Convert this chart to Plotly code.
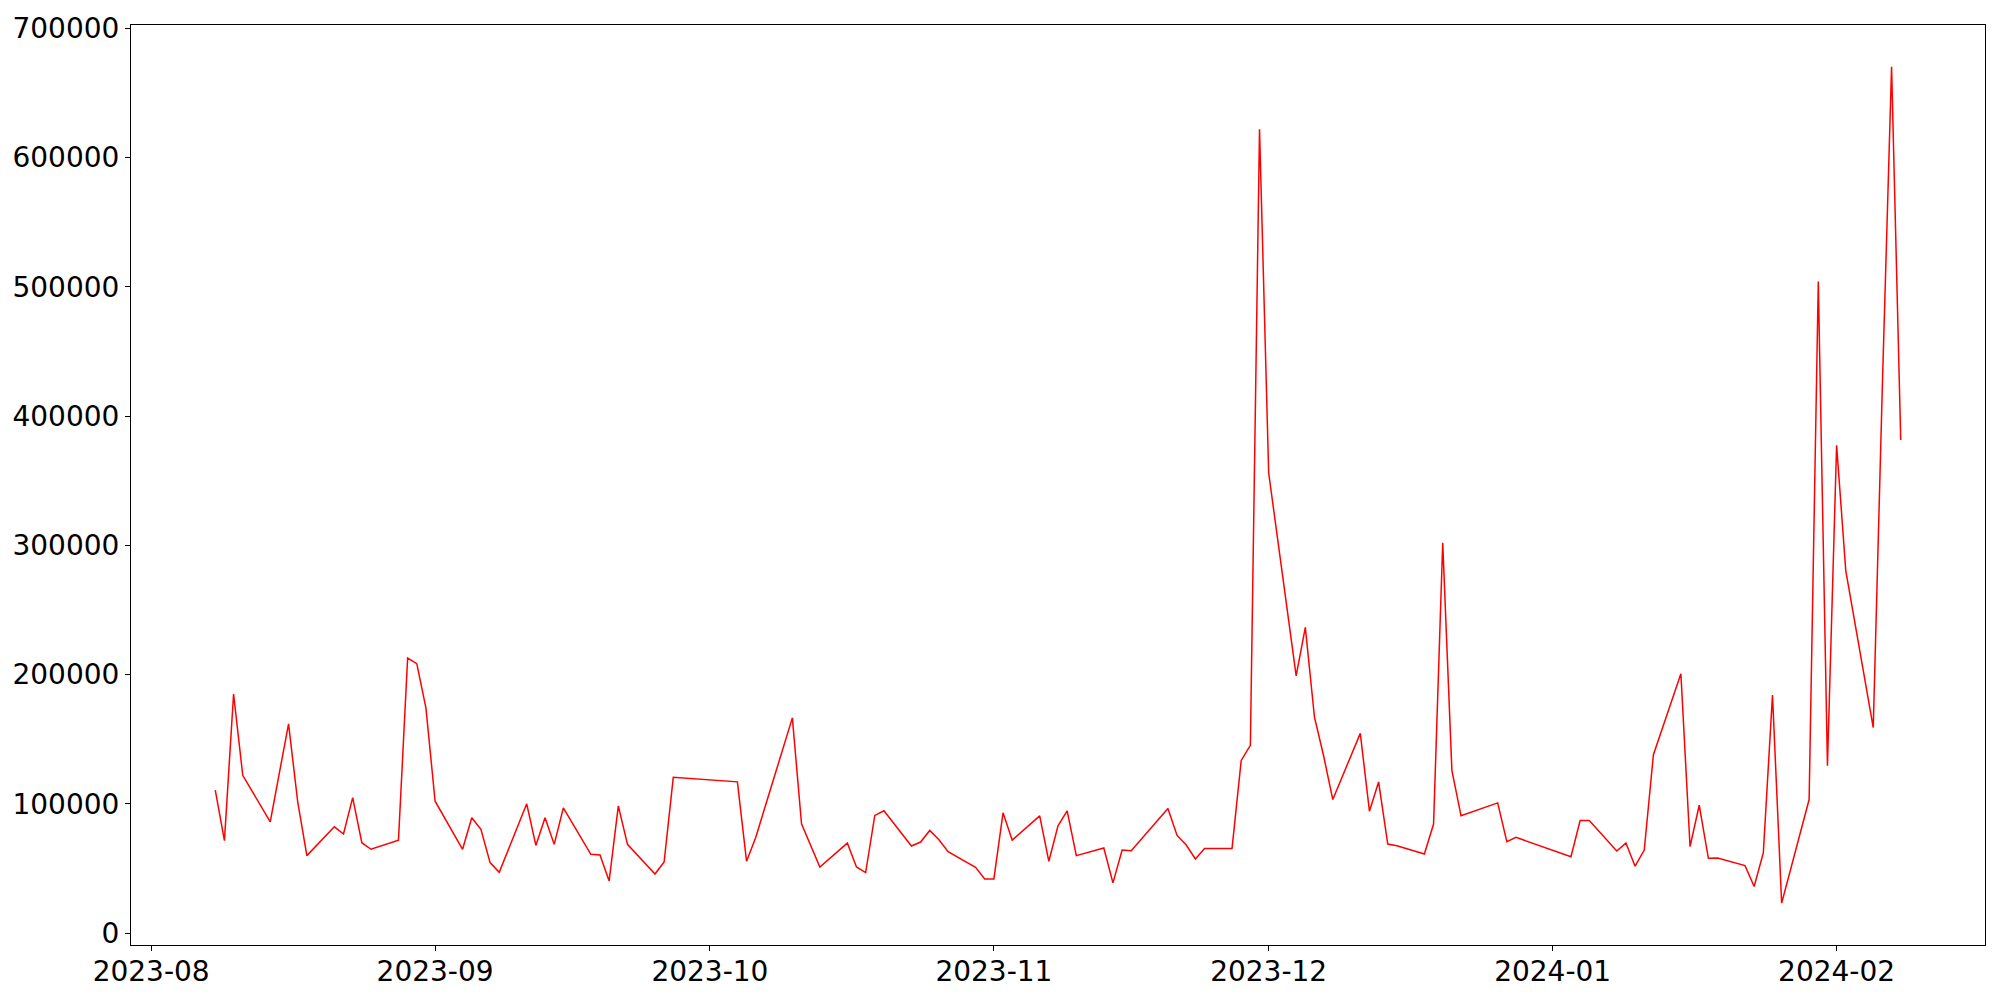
import pandas as pd
import plotly.graph_objects as go

dates = [
    "2023-08-08", "2023-08-09", "2023-08-10", "2023-08-11", "2023-08-14", "2023-08-16",
    "2023-08-17", "2023-08-18", "2023-08-21", "2023-08-22", "2023-08-23", "2023-08-24",
    "2023-08-25", "2023-08-28", "2023-08-29", "2023-08-30", "2023-08-31", "2023-09-01",
    "2023-09-04", "2023-09-05", "2023-09-06", "2023-09-07", "2023-09-08", "2023-09-11",
    "2023-09-12", "2023-09-13", "2023-09-14", "2023-09-15", "2023-09-18", "2023-09-19",
    "2023-09-20", "2023-09-21", "2023-09-22", "2023-09-25", "2023-09-26", "2023-09-27",
    "2023-10-04", "2023-10-05", "2023-10-06", "2023-10-10", "2023-10-11", "2023-10-13",
    "2023-10-16", "2023-10-17", "2023-10-18", "2023-10-19", "2023-10-20", "2023-10-23",
    "2023-10-24", "2023-10-25", "2023-10-26", "2023-10-27", "2023-10-30", "2023-10-31",
    "2023-11-01", "2023-11-02", "2023-11-03", "2023-11-06", "2023-11-07", "2023-11-08",
    "2023-11-09", "2023-11-10", "2023-11-13", "2023-11-14", "2023-11-15", "2023-11-16",
    "2023-11-20", "2023-11-21", "2023-11-22", "2023-11-23", "2023-11-24", "2023-11-27",
    "2023-11-28", "2023-11-29", "2023-11-30", "2023-12-01", "2023-12-04", "2023-12-05",
    "2023-12-06", "2023-12-07", "2023-12-08", "2023-12-11", "2023-12-12", "2023-12-13",
    "2023-12-14", "2023-12-15", "2023-12-18", "2023-12-19", "2023-12-20", "2023-12-21",
    "2023-12-22", "2023-12-26", "2023-12-27", "2023-12-28", "2024-01-03", "2024-01-04",
    "2024-01-05", "2024-01-08", "2024-01-09", "2024-01-10", "2024-01-11", "2024-01-12",
    "2024-01-15", "2024-01-16", "2024-01-17", "2024-01-18", "2024-01-19", "2024-01-22",
    "2024-01-23", "2024-01-24", "2024-01-25", "2024-01-26", "2024-01-29", "2024-01-30",
    "2024-01-31", "2024-02-01", "2024-02-02", "2024-02-05", "2024-02-06", "2024-02-07",
    "2024-02-08",
]

values = [
    110500, 71500, 185000, 122000, 86100, 161900,
    101500, 59900, 82200, 76600, 104800, 69900,
    64800, 71900, 212800, 208400, 174000, 102000,
    64800, 89200, 80200, 54500, 47000, 100000,
    67800, 89200, 68600, 96900, 60900, 60400,
    40300, 98400, 68600, 45700, 55000, 120500,
    117000, 55500, 74000, 166500, 84500, 51100,
    69600, 51100, 46800, 91000, 94600, 67300,
    70400, 79400, 72200, 63000, 50900, 41900,
    41900, 93000, 71900, 90700, 55500, 83000,
    94600, 59900, 65800, 38800, 64200, 63700,
    96400, 75500, 68100, 57300, 65500, 65500,
    133600, 145200, 622000, 356000, 199000, 236500,
    167000, 137000, 103300, 154500, 94300, 116900,
    68900, 67600, 61200, 84300, 302000, 125900,
    90700, 100700, 70700, 74000, 59100, 87100,
    87100, 63500, 69600, 51700, 64200, 138000,
    200700, 66800, 98900, 57800, 58000, 52200,
    36000, 62200, 184200, 23100, 103300, 504200,
    129500, 377500, 280500, 159000, 425000, 670300,
    381500,
]

y_ticks = [0, 100000, 200000, 300000, 400000, 500000, 600000, 700000]
y_tick_labels = ["0", "100000", "200000", "300000", "400000", "500000", "600000", "700000"]

x = pd.to_datetime(dates)

# matplotlib-like 5% data margins
span_x = x.max() - x.min()
x_range = [x.min() - 0.05 * span_x, x.max() + 0.05 * span_x]
span_y = max(values) - min(values)
y_range = [min(values) - 0.05 * span_y, max(values) + 0.05 * span_y]

fig = go.Figure(
    go.Scatter(
        x=x,
        y=values,
        mode="lines",
        line=dict(color="red", width=1.5),
        showlegend=False,
        hoverinfo="x+y",
    )
)

axis_common = dict(
    showgrid=False,
    zeroline=False,
    showline=True,
    linecolor="black",
    linewidth=1.1,
    mirror=True,
    ticks="outside",
    ticklen=5,
    tickwidth=1.1,
    tickcolor="black",
    tickfont=dict(family="DejaVu Sans", size=28, color="black"),
)

fig.update_xaxes(
    range=[x_range[0].isoformat(), x_range[1].isoformat()],
    tickformat="%Y-%m",
    dtick="M1",
    tick0="2023-08-01",
    ticklabelstandoff=-4,
    **axis_common,
)
fig.update_yaxes(
    range=y_range,
    tickmode="array",
    tickvals=y_ticks,
    ticktext=y_tick_labels,
    **axis_common,
)

fig.update_layout(
    width=2000,
    height=1000,
    margin=dict(l=131, r=15, t=23, b=53),
    plot_bgcolor="white",
    paper_bgcolor="white",
    font=dict(family="DejaVu Sans"),
)

# remove the default page margin and scrollbars so the figure fills the 2000x1000 window exactly
post_js = (
    "document.documentElement.style.margin='0';"
    "document.documentElement.style.overflow='hidden';"
    "document.body.style.margin='0';"
    "document.body.style.overflow='hidden';"
)

fig.write_html("out.html", post_script=post_js, config={"displayModeBar": False})
